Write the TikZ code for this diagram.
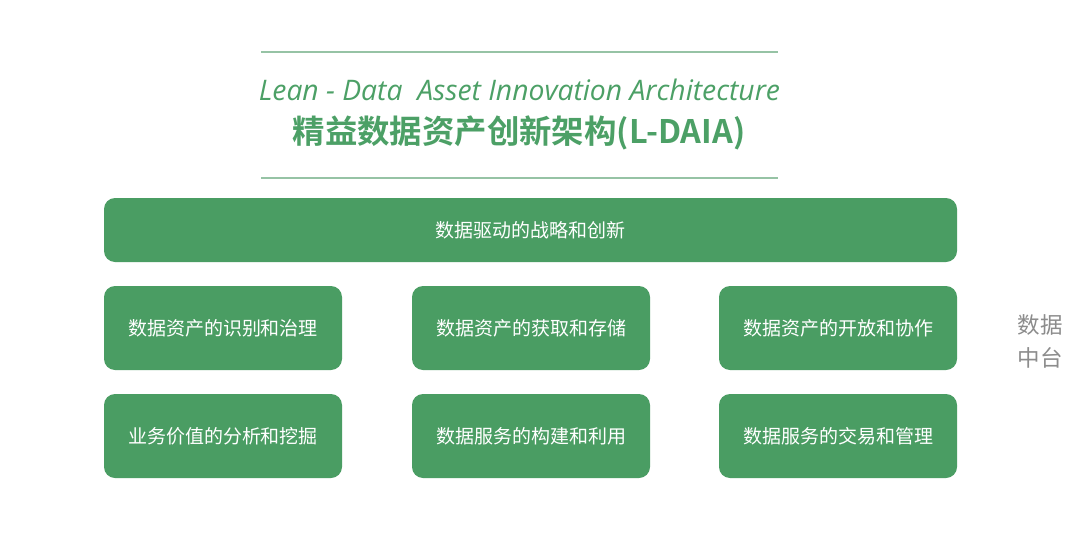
\documentclass[tikz,border=0pt]{standalone}
\usepackage{fontspec}
\setmainfont{Open Sans}
\newfontfamily\cjk{Noto Sans CJK SC}
\newfontfamily\cjkb{Noto Sans CJK SC Bold}
\definecolor{boxgreen}{RGB}{74,157,99}
\definecolor{titlegreen}{RGB}{76,160,102}
\definecolor{rulegreen}{RGB}{150,195,165}
\definecolor{sidegray}{RGB}{140,140,140}
\tikzset{
  gbox/.style={fill=boxgreen, draw=none, rounded corners=11pt, text=white, font=\cjk\fontsize{19}{23}\selectfont},
  rulel/.style={draw=rulegreen, line width=1.2pt}
}
\begin{document}
\begin{tikzpicture}[x=1pt,y=-1pt]
\useasboundingbox[fill=white] (0,0) rectangle (1080,549);
\coordinate (r1a) at (261,52); \coordinate (r1b) at (778,52);
\coordinate (r2a) at (261,178); \coordinate (r2b) at (778,178);
\draw[rulel] (r1a) -- (r1b);
\draw[rulel] (r2a) -- (r2b);
\node[text=titlegreen, font=\itshape\fontsize{28.3}{34}\selectfont] (en) at (519.5,90) {Lean - Data\ \ Asset Innovation Architecture};
\node[text=titlegreen, font=\cjkb\fontsize{32.4}{38}\selectfont] (cn) at (519,133) {精益数据资产创新架构(L-DAIA)};
% top box
\path[gbox] (104,198) rectangle (957,262);
\node[text=white, font=\cjk\fontsize{19}{23}\selectfont] (top) at (530.5,230) {数据驱动的战略和创新};
% row boxes
\foreach \x/\n/\t in {104/a1/数据资产的识别和治理, 412/a2/数据资产的获取和存储, 719/a3/数据资产的开放和协作}{
  \path[gbox] (\x,286) rectangle ++(238,84);
  \node[text=white, font=\cjk\fontsize{19}{23}\selectfont] (\n) at (\x+119,328) {\t};
}
\foreach \x/\n/\t in {104/b1/业务价值的分析和挖掘, 412/b2/数据服务的构建和利用, 719/b3/数据服务的交易和管理}{
  \path[gbox] (\x,394) rectangle ++(238,84);
  \node[text=white, font=\cjk\fontsize{19}{23}\selectfont] (\n) at (\x+119,436) {\t};
}
\node[text=sidegray, font=\cjk\fontsize{22.5}{33}\selectfont, align=left] (side) at (1040,341) {数据\\中台};
\end{tikzpicture}
\end{document}
